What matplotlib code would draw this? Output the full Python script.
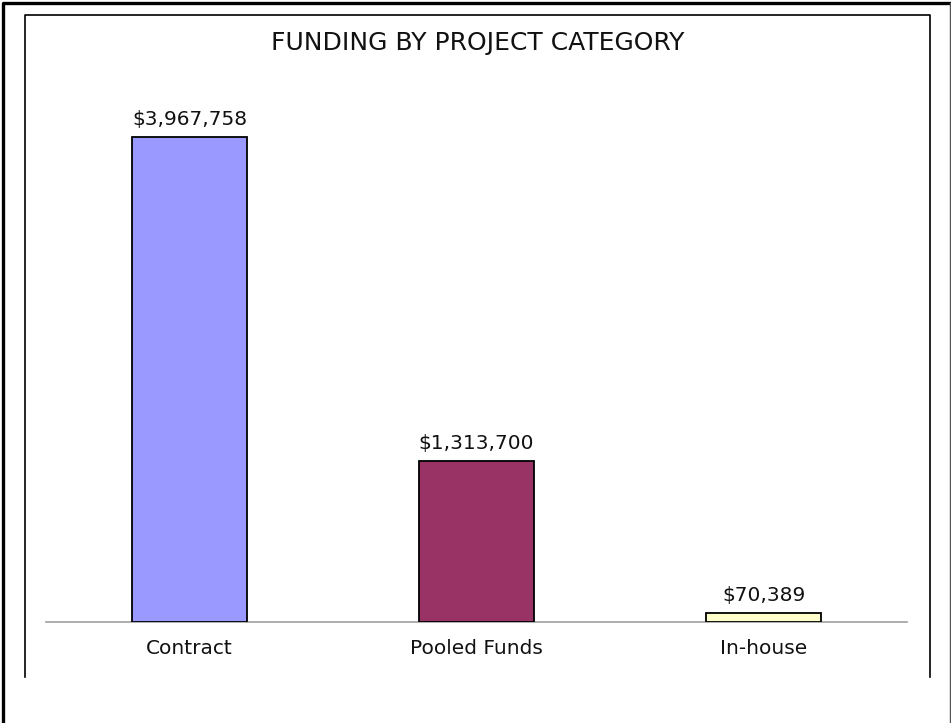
import matplotlib.pyplot as plt
from matplotlib.lines import Line2D

plt.rcParams['font.family'] = ['DejaVu Sans']

# funding per project category
categories = ['Contract', 'Pooled Funds', 'In-house']
funding = [3967758, 1313700, 70389]
bar_colors = ['#9999FF', '#993366', '#FFFFCC']

W, H = 951, 723
fig = plt.figure(figsize=(W / 100, H / 100), dpi=100)
fig.patch.set_facecolor('white')

# plot area: baseline at y=622px, spans x 46..907px
ax = fig.add_axes([46 / W, (H - 622) / H, 861 / W, 522 / H])
x = range(len(categories))
ax.bar(x, funding, width=0.4, color=bar_colors, edgecolor='black', linewidth=1.3, zorder=3)
ax.set_xlim(-0.5, len(categories) - 0.5)
ax.set_ylim(0, 4270000)

for xi, v in zip(x, funding):
    ax.annotate('${:,}'.format(v), (xi, v),
                xytext=(0, 6), textcoords='offset points',
                ha='center', va='bottom', fontsize=14.5, color='#111111')

ax.set_xticks(list(x))
ax.set_xticklabels(categories, fontsize=14.5, color='#111111')
ax.tick_params(axis='x', length=0, pad=12)
ax.set_yticks([])
for side in ['top', 'right', 'left']:
    ax.spines[side].set_visible(False)
ax.spines['bottom'].set_color('#a0a0a0')
ax.spines['bottom'].set_linewidth(1.2)
ax.set_facecolor('none')

fig.text(478 / W, 1 - 43 / H, 'FUNDING BY PROJECT CATEGORY', ha='center', va='center',
         fontsize=18, color='#111111')


def px_line(xs, ys, lw, color='black'):
    fig.add_artist(Line2D([v / W for v in xs], [1 - v / H for v in ys],
                          transform=fig.transFigure, color=color, linewidth=lw))


# outer frame (open at the bottom)
px_line([3, 3, 949], [H, 3, 3], 2.4)
px_line([949.5, 949.5], [3, H], 1.0, color='#555555')
# inner frame, also open at the bottom
px_line([24.5, 24.5, 930, 930], [677, 15, 15, 677], 1.2)

fig.savefig('out.png', dpi=100)
